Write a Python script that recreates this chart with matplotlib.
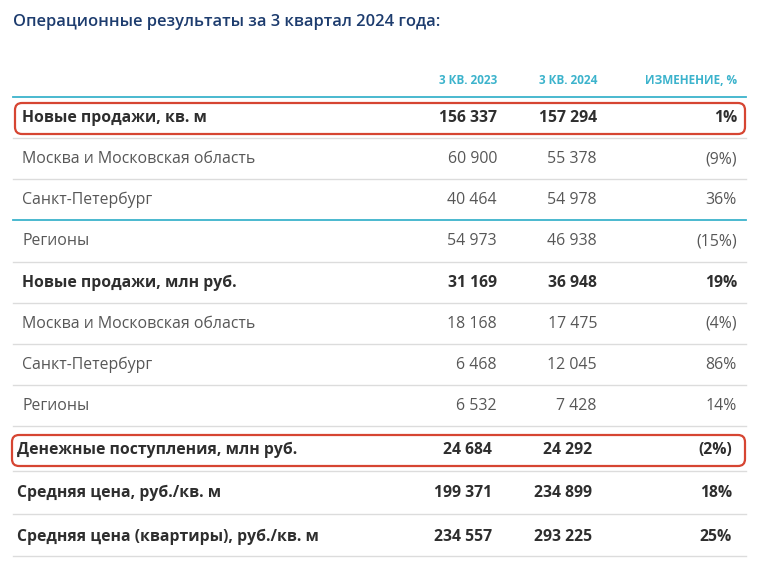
import matplotlib.pyplot as plt
from matplotlib import font_manager as fm
from matplotlib.patches import FancyBboxPatch

# Данные таблицы
title = "Операционные результаты за 3 квартал 2024 года:"
headers = ["3 КВ. 2023", "3 КВ. 2024", "ИЗМЕНЕНИЕ, %"]
labels = [
    "Новые продажи, кв. м",
    "Москва и Московская область",
    "Санкт-Петербург",
    "Регионы",
    "Новые продажи, млн руб.",
    "Москва и Московская область",
    "Санкт-Петербург",
    "Регионы",
    "Денежные поступления, млн руб.",
    "Средняя цена, руб./кв. м",
    "Средняя цена (квартиры), руб./кв. м",
]
q3_2023 = [156337, 60900, 40464, 54973, 31169, 18168, 6468, 6532, 24684, 199371, 234557]
q3_2024 = [157294, 55378, 54978, 46938, 36948, 17475, 12045, 7428, 24292, 234899, 293225]
change = [1, -9, 36, -15, 19, -4, 86, 14, -2, 18, 25]
bold_rows = [0, 4, 8, 9, 10]
boxed_rows = [0, 8]

# Оформление (пиксели)
W, H = 758, 564
row_y = [118, 159, 200, 241, 283, 324, 365, 406, 450, 493, 537]
sep_y = [138, 179, 220, 262, 303, 344, 385, 426, 471, 514, 556]
teal_seps = [2]
NAVY = "#1d3c6e"
TEAL = "#3cb3cc"
DARK = "#2e2e2e"
GREY = "#575757"
RED = "#d64532"


def font_file(name):
    for f in fm.fontManager.ttflist:
        if f.fname.endswith(name):
            return f.fname
    return None


def fprops(name, size):
    path = font_file(name)
    if path:
        return fm.FontProperties(fname=path, size=size)
    return fm.FontProperties(family="DejaVu Sans", size=size)


def fmt_num(v):
    return f"{v:,}".replace(",", " ")


def fmt_pct(v):
    return f"{v}%" if v >= 0 else f"({-v}%)"


fp_title = fprops("OpenSans-Semibold.ttf", 11.9)
fp_head = fprops("OpenSans-Bold.ttf", 8.5)
fp_reg = fprops("OpenSans-Regular.ttf", 11.4)
fp_bold = fprops("OpenSans-Bold.ttf", 11.3)

fig = plt.figure(figsize=(W / 100, H / 100), dpi=100)
ax = fig.add_axes([0, 0, 1, 1])
ax.set_xlim(0, W)
ax.set_ylim(H, 0)
ax.axis("off")

ax.text(13, 22, title, fontproperties=fp_title, color=NAVY, va="center", ha="left")

hx = [497, 597, 737]
for x, h in zip(hx, headers):
    ax.text(x, 80, h, fontproperties=fp_head, color=TEAL, va="center", ha="right")
ax.plot([13, 746], [97, 97], color=TEAL, lw=1.3)

for i, lab in enumerate(labels):
    y = row_y[i]
    bold = i in bold_rows
    col = DARK if bold else GREY
    fp = fp_bold if bold else fp_reg
    late = i >= 8  # нижние строки слегка сдвинуты влево
    lx = 17 if late else 22
    xs = [492, 592, 732] if late else [497, 597, 737]
    vals = [fmt_num(q3_2023[i]), fmt_num(q3_2024[i]), fmt_pct(change[i])]
    ax.text(lx, y, lab, fontproperties=fp, color=col, va="center", ha="left")
    for x, v in zip(xs, vals):
        ax.text(x, y, v, fontproperties=fp, color=col, va="center", ha="right")

for j, sy in enumerate(sep_y):
    c = TEAL if j in teal_seps else "#dcdcdc"
    lw = 1.3 if j in teal_seps else 1.0
    ax.plot([13, 746], [sy, sy], color=c, lw=lw)

for i in boxed_rows:
    y = row_y[i]
    left = 15 if i == 0 else 12
    box = FancyBboxPatch((left, y - 15), 745 - left, 31,
                         boxstyle="round,pad=0,rounding_size=7",
                         fill=False, edgecolor=RED, lw=1.6, zorder=3)
    ax.add_patch(box)

fig.savefig("out.png", dpi=100, facecolor="white")
